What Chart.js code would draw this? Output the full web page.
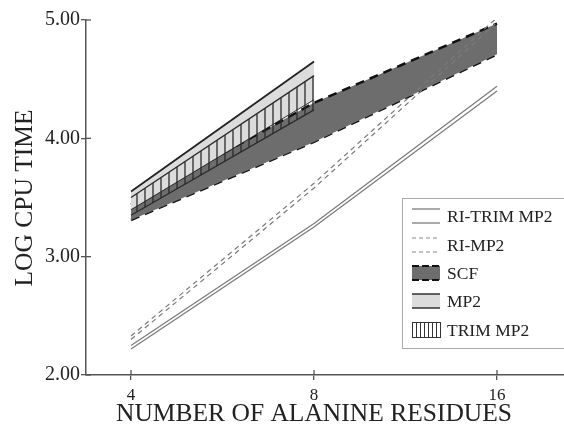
<!DOCTYPE html>
<html>
<head>
<meta charset="utf-8">
<script src="https://cdn.jsdelivr.net/npm/chart.js@4.4.1/dist/chart.umd.min.js"></script>
<style>
body { margin: 0; background: #fff; }
</style>
</head>
<body>
<canvas id="chart" width="564" height="435"></canvas>
<script>
// Residue counts (x) and log CPU time (y).
const residues = [4, 8, 16];
const residuesShort = [4, 8];
const xTicks = [4, 8, 16];
const yTicks = [2, 3, 4, 5];

const riTrimUpper = [2.25, 3.28, 4.44];
const riTrimLower = [2.22, 3.25, 4.40];
const riMp2Upper = [2.33, 3.62, 5.02];
const riMp2Lower = [2.30, 3.58, 4.98];
const scfUpper = [3.44, 4.30, 4.97];
const scfLower = [3.31, 3.97, 4.71];
const mp2Upper = [3.55, 4.65];
const mp2Lower = [3.40, 4.33];
const trimUpper = [3.50, 4.53];
const trimLower = [3.35, 4.24];

const legendLabels = ["RI-TRIM MP2", "RI-MP2", "SCF", "MP2", "TRIM MP2"];

const SERIF = '"Liberation Serif", "DejaVu Serif", serif';
const AXIS = "#555";
const TEXT = "#222";
const SCF_FILL = "#6d6d6d";
const MP2_FILL = "#dcdcdc";
const RI_COL = "#7a7a7a";

const canvas = document.getElementById("chart");
const ctx = canvas.getContext("2d");

// vertical hatching for TRIM MP2
function makeHatch(){
	const c = document.createElement("canvas");
	c.width = 8; c.height = 8;
	const g = c.getContext("2d");
	g.strokeStyle = "#2b2b2b";
	g.lineWidth = 1.3;
	g.beginPath(); g.moveTo(1, 0); g.lineTo(1, 8); g.stroke();
	return ctx.createPattern(c, "repeat");
}
const hatch = makeHatch();

const pts = (xs, ys) => xs.map((x, i) => ({x: x, y: ys[i]}));

function line(label, xs, ys, extra){
	return Object.assign({
		label: label,
		data: pts(xs, ys),
		pointRadius: 0,
		tension: 0,
		fill: false,
	}, extra);
}

const datasets = [
	line("RI-TRIM MP2 hi", residues, riTrimUpper, {borderColor: RI_COL, borderWidth: 1.2, order: 1}),
	line("RI-TRIM MP2 lo", residues, riTrimLower, {borderColor: RI_COL, borderWidth: 1.2, order: 1}),
	line("RI-MP2 hi", residues, riMp2Upper, {borderColor: RI_COL, borderWidth: 1.2, borderDash: [5, 4], order: 1}),
	line("RI-MP2 lo", residues, riMp2Lower, {borderColor: RI_COL, borderWidth: 1.2, borderDash: [5, 4], order: 1}),
	line("TRIM MP2 hi", residuesShort, trimUpper, {borderColor: "#2b2b2b", borderWidth: 1.3, fill: "+1", backgroundColor: hatch, order: 3}),
	line("TRIM MP2 lo", residuesShort, trimLower, {borderColor: "#2b2b2b", borderWidth: 1.3, order: 3}),
	line("MP2 hi", residuesShort, mp2Upper, {borderColor: "#222", borderWidth: 1.8, fill: "+1", backgroundColor: MP2_FILL, order: 4}),
	line("MP2 lo", residuesShort, mp2Lower, {borderColor: "#222", borderWidth: 1.4, order: 4}),
	line("SCF hi", residues, scfUpper, {borderColor: "#111", borderWidth: 2.5, borderDash: [9, 6], fill: "+1", backgroundColor: SCF_FILL, order: 6}),
	line("SCF lo", residues, scfLower, {borderColor: "#111", borderWidth: 2.5, borderDash: [9, 6], order: 6}),
];

// titles, inner tick halves and the boxed legend
const decor = {
	id: "decor",
	afterDraw(chart){
		const c = chart.ctx;
		const xs = chart.scales.x, ys = chart.scales.y;
		const a = chart.chartArea;
		c.save();
		c.strokeStyle = AXIS;
		c.lineWidth = 1.3;
		xTicks.forEach(v => {
			const px = xs.getPixelForValue(v);
			c.beginPath(); c.moveTo(px, a.bottom); c.lineTo(px, a.bottom - 5); c.stroke();
		});
		yTicks.forEach(v => {
			const py = ys.getPixelForValue(v);
			c.beginPath(); c.moveTo(a.left, py); c.lineTo(a.left + 5, py); c.stroke();
		});

		c.fillStyle = TEXT;
		c.font = "25.5px " + SERIF;
		c.textAlign = "center";
		c.textBaseline = "alphabetic";
		c.fillText("NUMBER OF ALANINE RESIDUES", 314, 421);
		c.save();
		c.translate(32, 198);
		c.rotate(-Math.PI / 2);
		c.fillText("LOG CPU TIME", 0, 0);
		c.restore();

		// legend box
		c.fillStyle = "#fff";
		c.fillRect(402, 198, 170, 150);
		c.strokeStyle = "#aaa";
		c.lineWidth = 1;
		c.strokeRect(402.5, 198.5, 170, 150);

		const x0 = 412, x1 = 440;
		const rowY = [216, 245, 273, 301, 330];
		c.font = "17.5px " + SERIF;
		c.textAlign = "left";
		c.textBaseline = "middle";
		legendLabels.forEach((lab, i) => {
			const y = rowY[i];
			c.save();
			if (i === 0 || i === 1){
				c.strokeStyle = i === 0 ? "#555" : "#888";
				c.lineWidth = 1.2;
				if (i === 1) c.setLineDash([4, 3]);
				c.beginPath();
				c.moveTo(x0, y - 7); c.lineTo(x1, y - 7);
				c.moveTo(x0, y + 7); c.lineTo(x1, y + 7);
				c.stroke();
			} else if (i === 2){
				c.fillStyle = SCF_FILL;
				c.fillRect(x0, y - 7, x1 - x0, 14);
				c.strokeStyle = "#111";
				c.lineWidth = 2;
				c.setLineDash([7, 3]);
				c.beginPath();
				c.moveTo(x0, y - 7); c.lineTo(x1, y - 7);
				c.moveTo(x0, y + 7); c.lineTo(x1, y + 7);
				c.stroke();
			} else if (i === 3){
				c.fillStyle = MP2_FILL;
				c.fillRect(x0, y - 7, x1 - x0, 14);
				c.strokeStyle = "#333";
				c.lineWidth = 1.3;
				c.beginPath();
				c.moveTo(x0, y - 7); c.lineTo(x1, y - 7);
				c.moveTo(x0, y + 7); c.lineTo(x1, y + 7);
				c.stroke();
			} else {
				c.strokeStyle = "#333";
				c.lineWidth = 1;
				c.strokeRect(x0 + 0.5, y - 7.5, x1 - x0, 15);
				c.beginPath();
				for (let hx = x0 + 4; hx < x1; hx += 4){
					c.moveTo(hx + 0.5, y - 7); c.lineTo(hx + 0.5, y + 7);
				}
				c.stroke();
			}
			c.restore();
			c.fillStyle = TEXT;
			c.fillText(lab, 447, y + 1);
		});
		c.restore();
	}
};

new Chart(ctx, {
	type: "line",
	data: {datasets: datasets},
	plugins: [decor],
	options: {
		responsive: false,
		animation: false,
		devicePixelRatio: 1,
		layout: {padding: {top: 20, right: 0, left: 0, bottom: 0}},
		plugins: {legend: {display: false}, tooltip: {enabled: false}},
		scales: {
			x: {
				type: "logarithmic",
				min: 3.373,
				max: 20.62,
				afterBuildTicks: s => { s.ticks = xTicks.map(v => ({value: v})); },
				afterFit: s => { s.height = 60; },
				ticks: {
					callback: v => String(v),
					font: {family: SERIF, size: 17},
					color: TEXT,
					padding: 5,
					maxRotation: 0,
					autoSkip: false,
				},
				grid: {drawOnChartArea: false, tickLength: 5, color: AXIS, lineWidth: 1.3},
				border: {color: AXIS, width: 1.5},
			},
			y: {
				min: 2,
				max: 5,
				afterBuildTicks: s => { s.ticks = yTicks.map(v => ({value: v})); },
				afterFit: s => { s.width = 86; },
				ticks: {
					callback: v => v.toFixed(2),
					font: {family: SERIF, size: 20},
					color: TEXT,
					padding: 1,
				},
				grid: {drawOnChartArea: false, tickLength: 5, color: AXIS, lineWidth: 1.3},
				border: {color: AXIS, width: 1.5},
			},
		},
	},
});
</script>
</body>
</html>
